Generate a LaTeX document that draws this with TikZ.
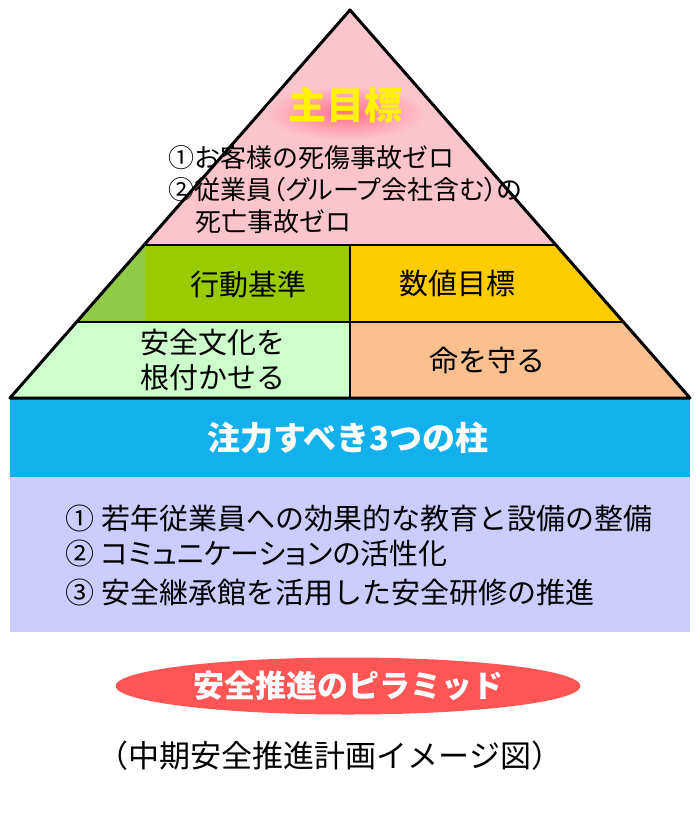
\documentclass[tikz,border=0pt]{standalone}
\usepackage{fontspec}
\newfontfamily\jpfont{Noto Sans CJK JP}
\usetikzlibrary{positioning,calc,shapes.geometric}

\definecolor{toppink}{HTML}{FCC4CC}
\definecolor{leafgreen}{HTML}{99CC00}
\definecolor{paleleaf}{HTML}{8FCB45}
\definecolor{goldbox}{HTML}{FFCC00}
\definecolor{mintbox}{HTML}{CCFFCC}
\definecolor{peachbox}{HTML}{FAC090}
\definecolor{skyband}{HTML}{12B0EC}
\definecolor{lavender}{HTML}{CCCCFF}
\definecolor{pillred}{HTML}{FF5555}
\definecolor{glowred}{HTML}{FF7088}

\begin{document}
\begin{tikzpicture}[x=1pt,y=-1pt,
   every node/.style={font=\jpfont\fontsize{29}{35}\selectfont},
   goaltext/.style={font=\jpfont\bfseries\fontsize{38}{44}\selectfont,text=yellow},
   smalltext/.style={font=\jpfont\fontsize{26}{32}\selectfont,anchor=west},
   tight/.style={font=\jpfont\addfontfeature{RawFeature=+palt}\fontsize{26}{32}\selectfont},
   listitem/.style={anchor=west},
   whitetext/.style={font=\jpfont\bfseries\fontsize{33}{38}\selectfont,text=white},
   pill/.style={ellipse,fill=pillred,minimum width=465,minimum height=57,inner sep=0pt}]
  \useasboundingbox (0,0) rectangle (700,830);
  % pyramid corners
  \coordinate (apex) at (350,10);
  \coordinate (tl) at (145,245);
  \coordinate (tr) at (556,245);
  \coordinate (ml) at (77,322);
  \coordinate (mr) at (623,322);
  \coordinate (bl) at (10,398);
  \coordinate (br) at (690,398);
  % fills
  \fill[toppink] (apex) -- (tl) -- (tr) -- cycle;
  \fill[paleleaf] (tl) -- (ml) -- (350,322) -- (350,245) -- cycle;
  \fill[leafgreen] (tl) rectangle (350,322);
  \fill[goldbox] (350,245) -- (tr) -- (mr) -- (350,322) -- cycle;
  \fill[mintbox] (ml) -- (bl) -- (350,398) -- (350,322) -- cycle;
  \fill[peachbox] (350,322) -- (mr) -- (br) -- (350,398) -- cycle;
  \fill[skyband] (10,398) rectangle (690,477);
  \fill[lavender] (10,477) rectangle (690,632);
  % outlines
  \draw[line width=3pt,line join=round] (bl) -- (apex) -- (br) -- cycle;
  \draw[line width=2pt] (tl) -- (tr) (ml) -- (mr) (350,245) -- (350,398);

  % main goal with soft glow
  \coordinate (goalpt) at (345,105);
  \shade[inner color=glowred,outer color=toppink] ($(goalpt)+(0,8)$) ellipse [x radius=80,y radius=27];
  \node[goaltext] (goal) at (goalpt) {主目標};
  \node[smalltext] (g1) at (165,158) {①お客様の死傷事故ゼロ};
  \node[smalltext,tight] (g2) at (165,190) {②従業員（グループ会社含む）の};
  \node[smalltext] (g3) at (192,222) {死亡事故ゼロ};

  % middle bands
  \node (rule) at (248,284) {行動基準};
  \node (target) at (457,284) {数値目標};
  \node[align=center] (culture) at (213,360) {安全文化を\\根付かせる};
  \node (life) at (487,360) {命を守る};

  % pillars
  \node[whitetext] (pillars) at (348,438) {注力すべき3つの柱};
  \node[listitem] (p1) at (62,518) {① 若年従業員への効果的な教育と設備の整備};
  \node[listitem,font=\jpfont\addfontfeature{RawFeature=+palt}\fontsize{29}{35}\selectfont] (p2) at (62,553) {② コミュニケーションの活性化};
  \node[listitem] (p3) at (62,592) {③ 安全継承館を活用した安全研修の推進};

  % badge and caption
  \node[pill,whitetext,font=\jpfont\bfseries\fontsize{31}{36}\selectfont] (badge) at (348,686) {安全推進のピラミッド};
  \node[font=\jpfont\fontsize{31}{36}\selectfont] (caption) at (330,756) {（中期安全推進計画イメージ図）};
\end{tikzpicture}
\end{document}
